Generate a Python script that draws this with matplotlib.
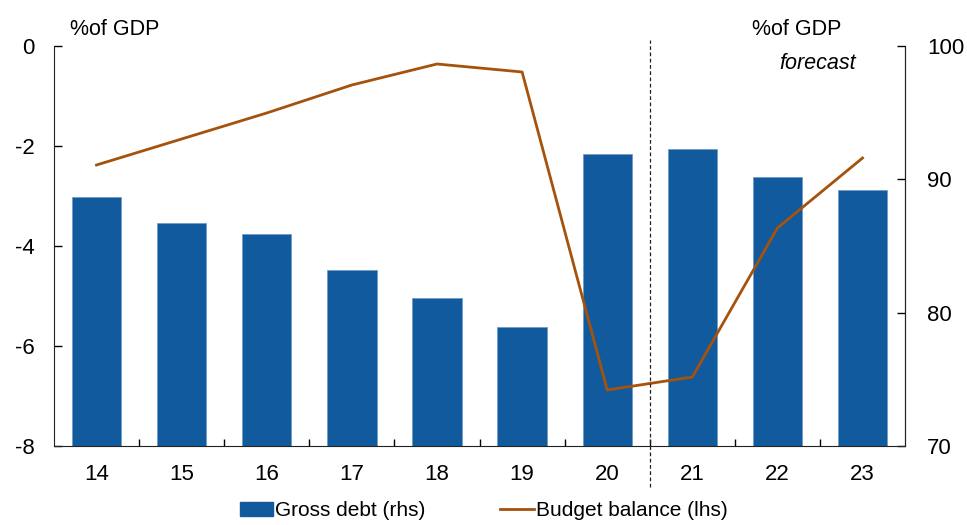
import numpy as np
import matplotlib
matplotlib.use('Agg')
import matplotlib.pyplot as plt
from matplotlib.patches import Patch
from matplotlib.lines import Line2D

plt.rcParams['font.family'] = ['Liberation Sans', 'DejaVu Sans']
plt.rcParams['axes.unicode_minus'] = False

years = ['14', '15', '16', '17', '18', '19', '20', '21', '22', '23']
gross_debt = [88.7, 86.7, 85.9, 83.2, 81.1, 78.9, 91.9, 92.3, 90.2, 89.2]
budget_balance = [-2.38, -1.86, -1.34, -0.78, -0.36, -0.52, -6.88, -6.62, -3.64, -2.24]

bar_col = '#115a9e'
line_col = '#a5520c'
fs = 16

fig = plt.figure(figsize=(9.67, 5.25), dpi=100)
ax = fig.add_axes([0.0558, 0.1505, 0.8802, 0.7619])   # left axis: balance
ax2 = ax.twinx()                                      # right axis: debt

x = np.arange(len(years))
ax2.bar(x, gross_debt, width=0.58, color=bar_col, edgecolor='#6f9cc8', linewidth=0.6)
ax2.set_ylim(70, 100)
ax2.set_yticks([70, 80, 90, 100])

ax.plot(x, budget_balance, color=line_col, lw=2)
ax.set_ylim(-8, 0)
ax.set_yticks([-8, -6, -4, -2, 0])
ax.set_xlim(-0.5, len(years) - 0.5)

# line over bars
ax.set_zorder(ax2.get_zorder() + 1)
ax.patch.set_visible(False)

# x axis: ticks between categories, labels centred
ax.set_xticks(np.arange(0.5, len(years) - 0.5), minor=False)
ax.set_xticklabels([])
ax.set_xticks(x, minor=True)
ax.set_xticklabels(years, minor=True)
ax.tick_params(axis='x', which='major', direction='in', length=5, width=1)
ax.tick_params(axis='x', which='minor', length=0, pad=13, labelsize=fs)
ax.tick_params(axis='y', direction='in', length=6, width=1, labelsize=fs, pad=14)
ax2.tick_params(axis='y', direction='in', length=6, width=1, labelsize=fs, pad=16)

for a in (ax, ax2):
    a.spines['top'].set_visible(False)
    for s in ('left', 'right', 'bottom'):
        a.spines[s].set_color('#222222')
ax2.spines['left'].set_visible(False)
ax2.spines['bottom'].set_visible(False)

# forecast divider
ax.plot([6.5, 6.5], [-8.83, 0.12], color='#222222', lw=0.9, ls=(0, (3, 2)), clip_on=False)

ax.text(0.019, 1.015, '%of GDP', transform=ax.transAxes, fontsize=15.5, ha='left', va='bottom')
ax.text(0.82, 1.015, '%of GDP', transform=ax.transAxes, fontsize=15.5, ha='left', va='bottom')
ax.text(0.942, 0.955, 'forecast', transform=ax.transAxes, fontsize=15.5, style='italic',
        ha='right', va='center')

handles = [Patch(color=bar_col), Line2D([0], [0], color=line_col, lw=2)]
fig.legend(handles, ['Gross debt (rhs)', 'Budget balance (lhs)'], loc='center',
           bbox_to_anchor=(0.5, 0.027), ncol=2, frameon=False, fontsize=15,
           handlelength=1.6, columnspacing=3.6, handletextpad=0.1)

fig.savefig('out.png', dpi=100)
